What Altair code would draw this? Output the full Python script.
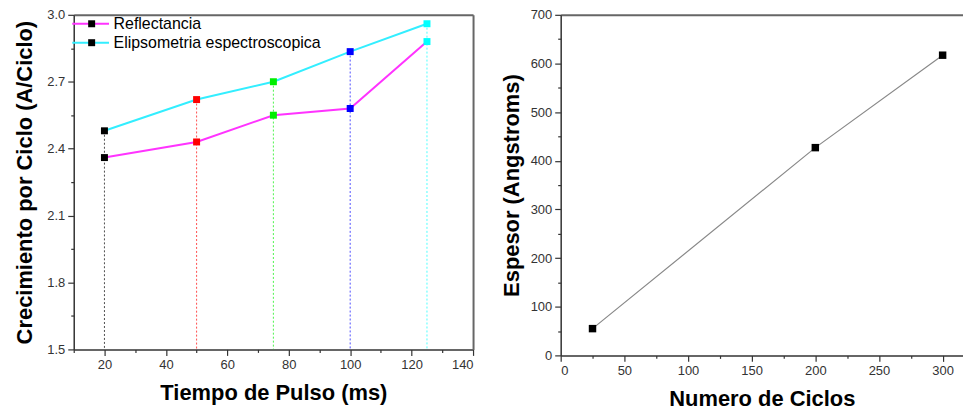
import altair as alt
import pandas as pd

# ---------------- data (left panel) ----------------
pulse_ms = [20, 50, 75, 100, 125]
pulse_labels = ["20", "50", "75", "100", "125"]
reflectancia = [2.36, 2.43, 2.55, 2.58, 2.88]
elipsometria = [2.48, 2.62, 2.70, 2.835, 2.96]
series_names = ["Reflectancia", "Elipsometria espectroscopica"]
marker_names = ["marker-R", "marker-E"]

x1_major = [20, 40, 60, 80, 100, 120, 140]
x1_minor = [10, 30, 50, 70, 90, 110, 130]
y1_major = [1.5, 1.8, 2.1, 2.4, 2.7, 3.0]
y1_minor = [1.65, 1.95, 2.25, 2.55, 2.85]

# ---------------- data (right panel) ----------------
ciclos = [25, 200, 300]
espesor = [55, 427, 617]
x2_major = [0, 50, 100, 150, 200, 250, 300]
x2_minor = [25, 75, 125, 175, 225, 275]
y2_major = [0, 100, 200, 300, 400, 500, 600, 700]
y2_minor = [50, 150, 250, 350, 450, 550, 650]

# ---------------- styles ----------------
series_colors = ["#ff33ff", "#33eeff"]
point_colors = ["#000000", "#ff0000", "#00ee00", "#0000ff", "#00ffff"]
FONT = "Liberation Sans"

rows = []
for name, mk, vals in zip(series_names, marker_names, [reflectancia, elipsometria]):
    for p, lab, v in zip(pulse_ms, pulse_labels, vals):
        rows.append({"pulse": p, "cat": lab, "value": v, "series": name, "marker": mk})
df1 = pd.DataFrame(rows)
df_drop = pd.DataFrame({"pulse": pulse_ms, "cat": pulse_labels, "top": elipsometria})
df2 = pd.DataFrame({"ciclos": ciclos, "espesor": espesor})

xs1 = alt.Scale(domain=[10, 140], nice=False, zero=False)
ys1 = alt.Scale(domain=[y1_major[0], y1_major[-1]], nice=False, zero=False)
cat_scale = alt.Scale(domain=pulse_labels, range=point_colors)

drops = alt.Chart(df_drop).mark_rule(strokeDash=[2, 2], strokeWidth=1, opacity=0.7).encode(
    x=alt.X("pulse:Q", scale=xs1, axis=alt.Axis(values=x1_major, title="Tiempo de Pulso (ms)",
                                                titlePadding=11, orient="bottom")),
    y=alt.Y("top:Q", scale=ys1, axis=alt.Axis(values=y1_major, format=".1f",
                                              title="Crecimiento por Ciclo (A/Ciclo)",
                                              titlePadding=10, orient="left")),
    y2=alt.datum(y1_major[0]),
    color=alt.Color("cat:N", scale=cat_scale, legend=None),
)

lines = alt.Chart(df1).mark_line(strokeWidth=2).encode(
    x=alt.X("pulse:Q", scale=xs1, axis=None),
    y=alt.Y("value:Q", scale=ys1, axis=None),
    stroke=alt.Stroke("series:N", scale=alt.Scale(domain=series_names, range=series_colors),
                      legend=alt.Legend(title=None, orient="none", legendX=9, legendY=1,
                                        symbolType="M-4.1,0H4.1", symbolSize=81, symbolStrokeWidth=2,
                                        labelOffset=15, rowPadding=3, labelFontSize=16,
                                        labelLimit=400)),
)

pts = alt.Chart(df1).mark_point(filled=True, size=49, opacity=1).encode(
    x=alt.X("pulse:Q", scale=xs1, axis=None),
    y=alt.Y("value:Q", scale=ys1, axis=None),
    fill=alt.Fill("cat:N", scale=cat_scale, legend=None),
    shape=alt.Shape("marker:N", scale=alt.Scale(domain=marker_names, range=["square", "square"]),
                    legend=alt.Legend(title=None, orient="none", legendX=10, legendY=1,
                                      symbolSize=49, symbolFillColor="black",
                                      symbolStrokeColor="black", symbolStrokeWidth=0,
                                      rowPadding=3, labelFontSize=16, labelExpr="''")),
)

minor1 = alt.Chart(df1).mark_point(opacity=0).encode(
    x=alt.X("pulse:Q", scale=xs1, axis=alt.Axis(values=x1_minor, labels=False, domain=False,
                                                tickSize=3, title=None, orient="bottom")),
    y=alt.Y("value:Q", scale=ys1, axis=alt.Axis(values=y1_minor, labels=False, domain=False,
                                                tickSize=3, title=None, orient="left")),
)

frame1 = alt.Chart(df1).mark_point(opacity=0).encode(
    x=alt.X("pulse:Q", scale=xs1, axis=alt.Axis(orient="top", labels=False, ticks=False,
                                                title=None, domainColor="#666666", domainWidth=2)),
    y=alt.Y("value:Q", scale=ys1, axis=alt.Axis(orient="right", labels=False, ticks=False,
                                                title=None, domainColor="#666666", domainWidth=2)),
)

left = alt.layer(drops, lines, pts, minor1, frame1).resolve_axis(
    x="independent", y="independent").properties(width=401, height=336)

# ---------------- right panel ----------------
xs2 = alt.Scale(domain=[0, 316], nice=False, zero=False)
ys2 = alt.Scale(domain=[y2_major[0], y2_major[-1]], nice=False, zero=False)

line2 = alt.Chart(df2).mark_line(color="#888888", strokeWidth=1.2).encode(
    x=alt.X("ciclos:Q", scale=xs2, axis=alt.Axis(values=x2_major, title="Numero de Ciclos",
                                                 titlePadding=11, orient="bottom")),
    y=alt.Y("espesor:Q", scale=ys2, axis=alt.Axis(values=y2_major, title="Espesor (Angstroms)",
                                                  titlePadding=7, orient="left")),
)
pts2 = alt.Chart(df2).mark_point(shape="square", filled=True, size=56, color="#000000",
                                 opacity=1).encode(
    x=alt.X("ciclos:Q", scale=xs2, axis=None),
    y=alt.Y("espesor:Q", scale=ys2, axis=None),
)
minor2 = alt.Chart(df2).mark_point(opacity=0).encode(
    x=alt.X("ciclos:Q", scale=xs2, axis=alt.Axis(values=x2_minor, labels=False, domain=False,
                                                 tickSize=3, title=None, orient="bottom")),
    y=alt.Y("espesor:Q", scale=ys2, axis=alt.Axis(values=y2_minor, labels=False, domain=False,
                                                  tickSize=3, title=None, orient="left")),
)
frame2 = alt.Chart(df2).mark_point(opacity=0).encode(
    x=alt.X("ciclos:Q", scale=xs2, axis=alt.Axis(orient="top", labels=False, ticks=False,
                                                 title=None, domainColor="#666666", domainWidth=2)),
    y=alt.Y("espesor:Q", scale=ys2, axis=None),
)

right = alt.layer(line2, pts2, minor2, frame2).resolve_axis(
    x="independent", y="independent").properties(width=404, height=342)

chart = alt.hconcat(left, right, spacing=26).properties(
    padding={"left": 5, "top": 0, "right": 0, "bottom": 0}
).configure_view(stroke=None).configure_axis(
    labelFont=FONT, labelFontSize=13, labelColor="#333333",
    titleFont=FONT, titleFontSize=22, titleFontWeight="bold", titleColor="#000000",
    domainColor="#333333", tickColor="#333333", domainWidth=1.5, tickWidth=1.2,
    tickSize=6, labelPadding=3, grid=False,
).configure_legend(labelFont=FONT, labelColor="#000000")

chart.save("out.html", embed_options={"renderer": "svg", "actions": False})
